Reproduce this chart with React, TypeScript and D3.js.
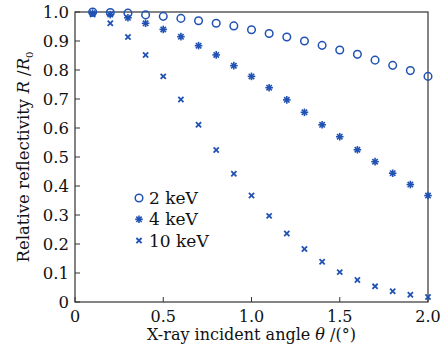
import React from "react";
import * as d3 from "d3";

const angles = [0.1, 0.2, 0.3, 0.4, 0.5, 0.6, 0.7, 0.8, 0.9, 1.0, 1.1, 1.2, 1.3, 1.4, 1.5, 1.6, 1.7, 1.8, 1.9, 2.0];
const kev2 = [1.0, 0.998, 0.996, 0.99, 0.985, 0.978, 0.97, 0.961, 0.952, 0.939, 0.926, 0.914, 0.9, 0.885, 0.869, 0.854, 0.834, 0.816, 0.798, 0.778];
const kev4 = [0.996, 0.991, 0.98, 0.961, 0.94, 0.915, 0.884, 0.852, 0.815, 0.778, 0.739, 0.697, 0.654, 0.611, 0.57, 0.525, 0.484, 0.444, 0.405, 0.367];
const kev10 = [0.991, 0.961, 0.914, 0.852, 0.778, 0.698, 0.611, 0.524, 0.442, 0.367, 0.297, 0.236, 0.183, 0.139, 0.103, 0.076, 0.054, 0.037, 0.025, 0.017];
const xTicks = [0, 0.5, 1.0, 1.5, 2.0];
const xTickLabels = ["0", "0.5", "1.0", "1.5", "2.0"];
const yTicks = [0, 0.1, 0.2, 0.3, 0.4, 0.5, 0.6, 0.7, 0.8, 0.9, 1.0];
const yTickLabels = ["0", "0.1", "0.2", "0.3", "0.4", "0.5", "0.6", "0.7", "0.8", "0.9", "1.0"];
const seriesNames = ["2 keV", "4 keV", "10 keV"];

const blue = "#2152b3";
const font = "'DejaVu Serif', serif";

const Marker = ({ kind, x, y }: { kind: string; x: number; y: number }) => {
  if (kind === "circle") {
    return <circle cx={x} cy={y} r={3.8} fill="none" stroke={blue} strokeWidth={1.5} />;
  }
  if (kind === "star") {
    const r = 3.8;
    const arms = [0, 45, 90, 135].map(a => (a * Math.PI) / 180);
    return (
      <g>
        {arms.map((a, i) => (
          <line key={i} x1={x - r * Math.cos(a)} y1={y - r * Math.sin(a)} x2={x + r * Math.cos(a)} y2={y + r * Math.sin(a)} stroke={blue} strokeWidth={1.6} />
        ))}
        <circle cx={x} cy={y} r={1.8} fill={blue} />
      </g>
    );
  }
  const r = 2.6;
  return (
    <g stroke={blue} strokeWidth={1.8}>
      <line x1={x - r} y1={y - r} x2={x + r} y2={y + r} />
      <line x1={x - r} y1={y + r} x2={x + r} y2={y - r} />
    </g>
  );
};

export default function App() {
  const width = 448;
  const height = 355;
  const margin = { top: 12, right: 20, bottom: 53, left: 75 };

  const x = d3.scaleLinear().domain([0, 2]).range([margin.left, width - margin.right]);
  const y = d3.scaleLinear().domain([0, 1]).range([height - margin.bottom, margin.top]);

  const series = [
    { name: seriesNames[0], values: kev2, kind: "circle" },
    { name: seriesNames[1], values: kev4, kind: "star" },
    { name: seriesNames[2], values: kev10, kind: "cross" },
  ];

  const x0 = x(0), x1 = x(2), y0 = y(0), y1 = y(1);

  return (
    <svg width={width} height={height} style={{ position: "absolute", left: 0, top: 0 }}>
      <rect width={width} height={height} fill="white" />
      {/* frame */}
      <rect x={x0} y={y1} width={x1 - x0} height={y0 - y1} fill="none" stroke="#333" strokeWidth={1.2} />
      {/* x ticks */}
      {xTicks.map((t, i) => (
        <g key={i}>
          <line x1={x(t)} x2={x(t)} y1={y0} y2={y0 - 5} stroke="#333" strokeWidth={1} />
          <text x={x(t)} y={y0 + 19.5} textAnchor="middle" fontFamily={font} fontSize={16} fill="#111">
            {xTickLabels[i]}
          </text>
        </g>
      ))}
      {/* y ticks */}
      {yTicks.map((t, i) => (
        <g key={i}>
          <line x1={x0} x2={x0 + 5} y1={y(t)} y2={y(t)} stroke="#333" strokeWidth={1} />
          <text x={x0 - 6} y={y(t) + 6} textAnchor="end" fontFamily={font} fontSize={16.5} fill="#111">
            {yTickLabels[i]}
          </text>
        </g>
      ))}
      {/* axis titles */}
      <text x={(x0 + x1) / 2} y={340} textAnchor="middle" fontFamily={font} fontSize={16} fill="#111">
        X-ray incident angle <tspan fontStyle="italic">θ</tspan> /(°)
      </text>
      <text transform={`translate(29,${(y0 + y1) / 2}) rotate(-90)`} textAnchor="middle" fontFamily={font} fontSize={16.5} fill="#111">
        Relative reflectivity <tspan fontStyle="italic">R</tspan> /<tspan fontStyle="italic">R</tspan>
        <tspan fontSize={10} dy={4}>0</tspan>
      </text>
      {/* data */}
      {series.map(s => (
        <g key={s.name}>
          {s.values.map((v, i) => (
            <Marker key={i} kind={s.kind} x={x(angles[i])} y={y(v)} />
          ))}
        </g>
      ))}
      {/* legend */}
      {series.map((s, i) => (
        <g key={s.name} transform={`translate(139,${198 + i * 21.3})`}>
          <Marker kind={s.kind} x={0} y={0} />
          <text x={10} y={6} fontFamily={font} fontSize={17} fill="#111">{s.name}</text>
        </g>
      ))}
    </svg>
  );
}
